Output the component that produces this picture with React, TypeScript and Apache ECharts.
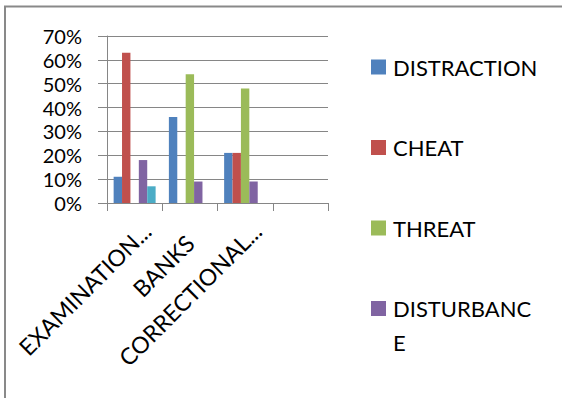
import React, { useEffect, useRef } from "react";
import * as echarts from "echarts";

// Categories along the x axis (the last slot is empty)
const categories = ["EXAMINATION...", "BANKS", "CORRECTIONAL...", ""];

// Share of respondents per place, in percent
const distraction = [11, 36, 21, 0];
const cheat = [63, 0, 21, 0];
const threat = [0, 54, 48, 0];
const disturbance = [18, 9, 9, 0];
const other = [7, 0, 0, 0];

const seriesNames = ["DISTRACTION", "CHEAT", "THREAT", "DISTURBANCE", "OTHER"];
const seriesColors = ["#4F81BD", "#C0504D", "#9BBB59", "#8064A2", "#4BACC6"];
const seriesData = [distraction, cheat, threat, disturbance, other];

// Legend entries shown at the right (the fifth series falls outside the frame)
const legendLabels = ["DISTRACTION", "CHEAT", "THREAT", "DISTURBANC\nE"];

const FONT = "Lato";
const GRID_LINE = "#868686";

export default function App() {
  const ref = useRef<HTMLDivElement>(null);

  useEffect(() => {
    if (!ref.current) return;
    const chart = echarts.init(ref.current, null, { renderer: "svg" });

    const legendTop = 67;
    const legendStep = 80.5;
    const legendGraphics: any[] = [];
    legendLabels.forEach((label, i) => {
      const cy = legendTop + i * legendStep;
      legendGraphics.push({
        type: "rect",
        shape: { x: 371, y: cy - 7.5, width: 15, height: 15 },
        style: { fill: seriesColors[i] },
        silent: true,
      });
      legendGraphics.push({
        type: "text",
        x: 393,
        y: cy - 17,
        style: {
          text: label,
          font: `22px ${FONT}`,
          fill: "#000",
          lineHeight: 34,
          verticalAlign: "top",
          align: "left",
        },
        silent: true,
      });
    });

    chart.setOption({
      animation: false,
      backgroundColor: "#fff",
      grid: { left: 107, top: 36, width: 221, height: 167, containLabel: false },
      xAxis: {
        type: "category",
        data: categories,
        boundaryGap: true,
        axisLine: { lineStyle: { color: GRID_LINE, width: 1 } },
        axisTick: { show: true, length: 8, alignWithLabel: false, lineStyle: { color: GRID_LINE } },
        axisLabel: {
          interval: 0,
          rotate: 45,
          margin: 36,
          color: "#000",
          fontFamily: FONT,
          fontSize: 23,
          padding: [0, -17, 0, 0],
          formatter: (v: string) => (v === "BANKS" ? `{s|${v}}` : v),
          rich: {
            s: { padding: [0, 17, 0, 0], fontFamily: FONT, fontSize: 23, color: "#000" },
          },
        },
      },
      yAxis: {
        type: "value",
        min: 0,
        max: 70,
        interval: 10,
        axisLine: { show: true, lineStyle: { color: GRID_LINE, width: 1 } },
        axisTick: { show: true, length: 9, lineStyle: { color: GRID_LINE } },
        splitLine: { show: true, lineStyle: { color: GRID_LINE, width: 1 } },
        axisLabel: {
          formatter: "{value}%",
          margin: 25,
          color: "#000",
          fontFamily: FONT,
          fontSize: 20,
          lineHeight: 18,
        },
      },
      series: seriesData.map((data, i) => ({
        type: "bar",
        name: seriesNames[i],
        data,
        barGap: "0%",
        barCategoryGap: "24%",
        itemStyle: { color: seriesColors[i] },
      })),
      graphic: [
        {
          type: "rect",
          shape: { x: 5, y: 6.5, width: 620, height: 460 },
          style: { fill: "none", stroke: "#898989", lineWidth: 2 },
          silent: true,
        },
        ...legendGraphics,
      ],
    });

    return () => chart.dispose();
  }, []);

  return (
    <div
      ref={ref}
      style={{ position: "fixed", left: 0, top: 0, width: 562, height: 398 }}
    />
  );
}
